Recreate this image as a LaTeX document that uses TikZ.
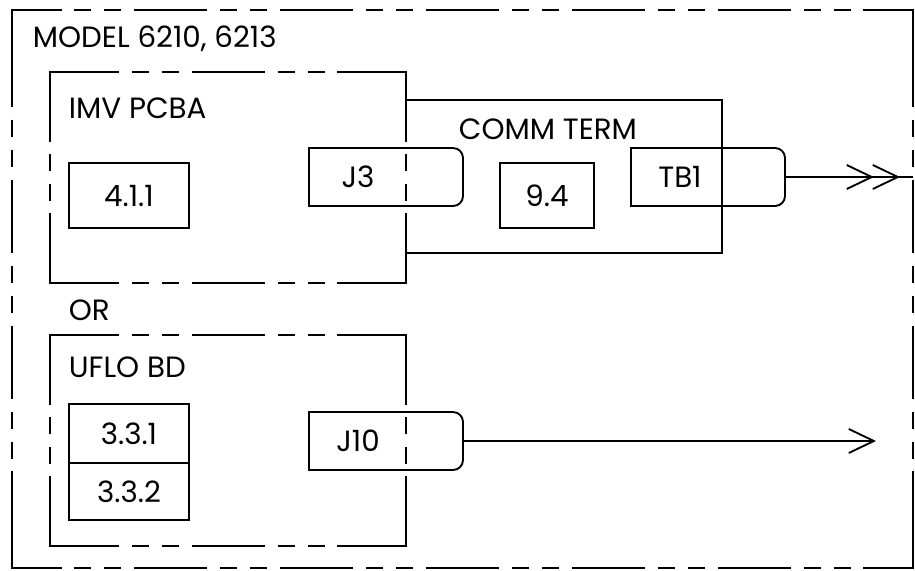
\documentclass[tikz,border=0pt]{standalone}
\usepackage{fontspec}
\setmainfont{Poppins}
\usetikzlibrary{arrows.meta,calc,positioning}

% hidden-line pattern (lengths in pt)
\newcommand\hidlong{54.75}
\newcommand\hidper{109.5}
\newcommand\hidside[2]{%
  \path (#1) coordinate (hs-a) (#2) coordinate (hs-b);
  \pgfpointdiff{\pgfpointanchor{hs-a}{center}}{\pgfpointanchor{hs-b}{center}}%
  \pgfgetlastxy{\hsx}{\hsy}%
  \pgfmathsetmacro\hslen{veclen(\hsx,\hsy)}%
  \pgfmathsetmacro\hsn{max(0,round((\hslen-\hidlong)/\hidper))}%
  \pgfmathsetmacro\hse{\hidlong+(\hslen-\hsn*\hidper-\hidlong)/2}%
  \pgfmathsetmacro\hsph{mod(\hidlong-\hse+10*\hidper,\hidper)}%
  \draw[hidline,dash phase=\hsph pt] (hs-a) -- (hs-b);
  \draw[line cap=rect] (hs-a) -- ($(hs-a)!\hse pt!(hs-b)$);
  \draw[line cap=rect] (hs-b) -- ($(hs-b)!\hse pt!(hs-a)$);
}
\newcommand\hidbox[1]{%
  \hidside{#1.north west}{#1.north east}%
  \hidside{#1.north west}{#1.south west}%
  \hidside{#1.north east}{#1.south east}%
  \hidside{#1.south west}{#1.south east}%
}

\begin{document}
\begin{tikzpicture}[x=0.75pt,y=-0.75pt,line width=1.4pt,
  lbl/.style={font=\fontsize{22}{26}\selectfont,inner sep=0pt},
  frame/.style={inner sep=0pt,outer sep=0pt},
  modbox/.style={draw,lbl,outer sep=0pt,minimum width=90pt},
  jack/.style={lbl,text width=73.5pt,align=center,minimum height=43.5pt,
    inner xsep=0pt,outer sep=0pt},
  hidline/.style={dash pattern=on 54.75pt off 9.75pt on 12.75pt off 9.75pt
    on 12.75pt off 9.75pt},
  barb/.style={-{Straight Barb[length=18.75pt,width=18pt]}}
]
\useasboundingbox (0,0) rectangle (915,571);

% frames
\node[frame,minimum width=675.75pt,minimum height=418.5pt] (model) at (462.5,289) {};
\node[frame,minimum width=267pt,minimum height=158.25pt] (imv) at (228,177.5) {};
\node[frame,minimum width=267pt,minimum height=158.25pt] (uflo) at (228,440.5) {};
\node[frame,minimum width=237pt,minimum height=114.75pt] (comm) at (564,176.5) {};
\hidbox{model}
\hidbox{imv}
\hidbox{uflo}
\draw (comm.north west) -- (comm.north east) -- (comm.south east) -- (comm.south west);

% titles
\node[lbl,anchor=base west] (model-t) at (32,47) {MODEL 6210, 6213};
\node[lbl,anchor=base west] (imv-t) at (68,118) {IMV PCBA};
\node[lbl,anchor=base west] (comm-t) at (458,139) {COMM TERM};
\node[lbl,anchor=base west] (or-t) at (68,320) {OR};
\node[lbl,anchor=base west] (uflo-t) at (68,377) {UFLO BD};

% modules
\node[modbox,minimum height=48.75pt] (m411) at (129,195.5) {4.1.1};
\node[modbox,minimum width=70.5pt,minimum height=48.75pt] (m94) at (547,195.5) {9.4};
\node[modbox,minimum height=44.25pt] (m331) at (129,433.5) {3.3.1};
\node[modbox,minimum height=42.75pt,below=0pt of m331] (m332) {3.3.2};

% jacks
\node[jack] (j3) at (358,177) {J3};
\node[jack] (tb1) at (680,177) {TB1};
\node[jack] (j10) at (358,441) {J10};
\foreach \j in {j3,tb1,j10}
  \draw (\j.north west) -- ([xshift=34.5pt]\j.north east)
    arc[start angle=90,end angle=0,radius=7.5pt]
    -- ([xshift=42pt,yshift=7.5pt]\j.south east)
    arc[start angle=0,end angle=-90,radius=7.5pt]
    -- (\j.south west) -- cycle
    ([xshift=42pt]\j.east) coordinate (\j-e);

% wires
\coordinate (tb1-tip) at (900,177);
\coordinate (j10-tip) at (876,441);
\draw (tb1-e) -- (tb1-e -| model.east);
\draw[-{Straight Barb[length=18.75pt,width=18pt,sep=-1.5pt]Straight Barb[length=18.75pt,width=18pt]}]
  (tb1-e) -- (tb1-tip);
\draw[barb] (j10-e) -- (j10-tip);
\end{tikzpicture}
\end{document}
